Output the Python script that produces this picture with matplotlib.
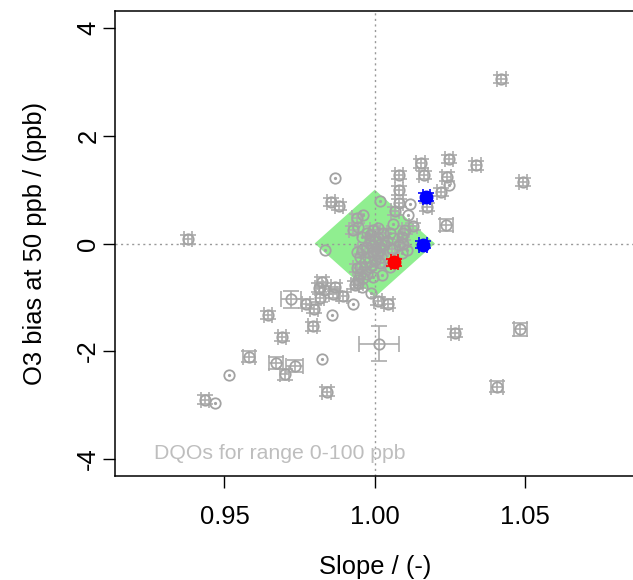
import matplotlib.pyplot as plt
import numpy as np

plt.rcParams['font.family'] = ['Liberation Sans', 'DejaVu Sans']

# grey points: slope, bias at 50 ppb and their uncertainties (0 = no bars)
slope = [1.0421, 1.0152, 1.0247, 1.0338, 1.0080, 1.0162, 1.0239, 1.0492, 1.0221, 1.0080,
         0.9854, 0.9881, 1.0080, 1.0175, 1.0238, 0.9378, 0.9823, 0.9814, 0.9869, 0.9861,
         0.9817, 0.9895, 0.9771, 0.9798, 0.9644, 0.9793, 0.9691, 1.0010, 1.0045, 1.0266,
         1.0407, 0.9700, 0.9436, 0.9840, 0.9583, 0.9672, 0.9734, 0.9722, 1.0013, 1.0484,
         0.9867, 1.0248, 1.0117, 1.0109, 0.9926, 0.9859, 0.9823, 0.9514, 0.9469, 0.9836,
         0.9831,
         1.0017, 1.0067, 1.0127, 0.9962, 0.9940, 1.0062, 1.0101, 1.0090, 1.0079, 1.0106,
         1.0056, 1.0051, 0.9928, 0.9945, 0.9958, 0.9995, 1.0012, 1.0028, 1.0051, 0.9984,
         1.0017, 0.9995, 0.9973, 0.9956, 0.9951, 0.9978, 1.0006, 0.9967, 0.9940, 0.9990,
         0.9973, 0.9962, 0.9945, 0.9956, 0.9934, 0.9986, 1.0062, 1.0094, 1.0095, 1.0090,
         0.9940, 1.0017, 0.9951, 0.9984, 1.0017, 0.9945, 1.0023, 0.9995, 0.9951, 0.9985,
         1.0000, 1.0020, 0.9990, 1.0010, 1.0030, 0.9975, 1.0000, 1.0020, 1.0040]
bias = [3.06, 1.49, 1.57, 1.45, 1.27, 1.27, 1.24, 1.14, 0.96, 0.99,
        0.77, 0.70, 0.75, 0.68, 0.34, 0.08, -0.71, -0.82, -0.81, -0.93,
        -1.01, -0.98, -1.12, -1.22, -1.33, -1.54, -1.74, -1.07, -1.12, -1.66,
        -2.66, -2.43, -2.90, -2.75, -2.10, -2.22, -2.28, -1.04, -1.86, -1.59,
        1.21, 1.09, 0.73, 0.53, -1.12, -1.33, -2.15, -2.45, -2.96, -0.12,
        -0.86,
        0.79, 0.60, 0.32, 0.53, 0.47, 0.36, 0.25, 0.12, -0.03, -0.12,
        -0.10, -0.43, 0.25, 0.31, 0.12, 0.25, 0.28, 0.19, 0.19, 0.06,
        -0.06, -0.15, -0.06, -0.12, -0.25, -0.25, -0.18, -0.34, -0.46, -0.40,
        -0.56, -0.65, -0.74, -0.81, -0.77, -0.92, 0.10, 0.19, 0.00, -0.18,
        -0.15, -0.12, -0.43, -0.43, -0.37, -0.68, -0.59, -0.62, -0.56, 0.15,
        0.05, 0.00, -0.05, 0.10, -0.02, 0.20, -0.30, -0.25, 0.05]
slope_u = [0.0014] * 14 + [0.0022, 0.0014] + [0.0014] * 14 + \
          [0.0020, 0.0016, 0.0014, 0.0014, 0.0020, 0.0024, 0.0028, 0.0033, 0.0067, 0.0022] + \
          [0] * 11 + \
          [0, 0.0012, 0.0012, 0, 0.0015, 0, 0.0012, 0, 0, 0,
           0.0012, 0, 0.0015, 0, 0, 0.0012, 0, 0.0012, 0, 0.0012,
           0, 0.0012, 0, 0.0012, 0, 0, 0.0012, 0, 0.0012, 0,
           0.0012, 0, 0.0015, 0, 0.0012, 0, 0, 0, 0.0012, 0,
           0, 0, 0, 0, 0.0012, 0, 0, 0, 0, 0,
           0, 0, 0, 0, 0, 0, 0, 0, 0]
bias_u = [0.08] * 14 + [0.11, 0.08] + [0.08] * 14 + \
         [0.10, 0.10, 0.08, 0.08, 0.11, 0.12, 0.11, 0.15, 0.33, 0.12] + \
         [0] * 11 + \
         [0, 0.07, 0.07, 0, 0.08, 0, 0.07, 0, 0, 0,
          0.07, 0, 0.08, 0, 0, 0.07, 0, 0.07, 0, 0.07,
          0, 0.07, 0, 0.07, 0, 0, 0.07, 0, 0.07, 0,
          0.07, 0, 0.08, 0, 0.07, 0, 0, 0, 0.07, 0,
          0, 0, 0, 0, 0.07, 0, 0, 0, 0, 0,
          0, 0, 0, 0, 0, 0, 0, 0, 0]

# highlighted instruments
blue_slope = [1.0171, 1.0160]
blue_bias = [0.86, -0.02]
red_slope = [1.0065]
red_bias = [-0.35]
hl_slope_u = 0.0012
hl_bias_u = 0.07

# DQO diamond: slope 1 +/- 0.02, bias +/- 1 ppb
dqo_x = [0.98, 1.00, 1.02, 1.00]
dqo_y = [0.0, 1.0, 0.0, -1.0]

slope = np.array(slope)
bias = np.array(bias)
slope_u = np.array(slope_u, dtype=float)
bias_u = np.array(bias_u, dtype=float)

W, H = 633, 580
fig = plt.figure(figsize=(W / 100, H / 100), dpi=100)
ax = fig.add_axes([115 / W, (H - 476) / H, (634.6 - 115) / W, (476 - 11) / H])

grey = '#A3A3A3'
fs = 18.4

ax.fill(dqo_x, dqo_y, color='#90EE90', lw=0, zorder=1)
ax.axvline(1.0, color='#999999', ls=(0, (1.5, 2.5)), lw=1, zorder=2)
ax.axhline(0.0, color='#999999', ls=(0, (1.5, 2.5)), lw=1, zorder=2)

has_u = slope_u > 0
ax.errorbar(slope[has_u], bias[has_u], xerr=slope_u[has_u], yerr=bias_u[has_u],
            fmt='none', ecolor='#ABABAB', elinewidth=1.2, capsize=5.5, capthick=1.2, zorder=3)
ax.plot(slope, bias, 'o', mfc='none', mec=grey, mew=1.3, ms=7.5, zorder=4)
ax.plot(slope[~has_u], bias[~has_u], 'o', color=grey, ms=1.3, zorder=4)

for xs, ys, c in [(blue_slope, blue_bias, 'blue'), (red_slope, red_bias, 'red')]:
    ax.errorbar(xs, ys, xerr=hl_slope_u, yerr=hl_bias_u, fmt='o', color=c, ms=9,
                elinewidth=1.2, capsize=5.5, capthick=1.2, zorder=5)

ax.text(0.9266, -3.9, 'DQOs for range 0-100 ppb', color='#BEBEBE', fontsize=15.3,
        ha='left', va='center', zorder=6)

ax.set_xlim(0.9136, 1.0864)
ax.set_ylim(-4.32, 4.32)
ax.set_xticks([0.95, 1.00, 1.05])
ax.set_xticklabels(['0.95', '1.00', '1.05'])
ax.set_yticks([-4, -2, 0, 2, 4])
ax.set_yticklabels(['-4', '-2', '0', '2', '4'], rotation=90, va='center')
ax.tick_params(axis='both', length=8.6, width=1, labelsize=fs, direction='out')
ax.tick_params(axis='x', pad=12)
ax.tick_params(axis='y', pad=2)
for s in ax.spines.values():
    s.set_linewidth(1.1)

fig.text(374.8 / W, 1 - 555 / H, 'Slope / (-)', fontsize=fs, ha='center', va='top')
fig.text(23 / W, 1 - 243.5 / H, 'O3 bias at 50 ppb / (ppb)', fontsize=fs,
         rotation=90, ha='left', va='center')

fig.savefig('out.png', dpi=100)
